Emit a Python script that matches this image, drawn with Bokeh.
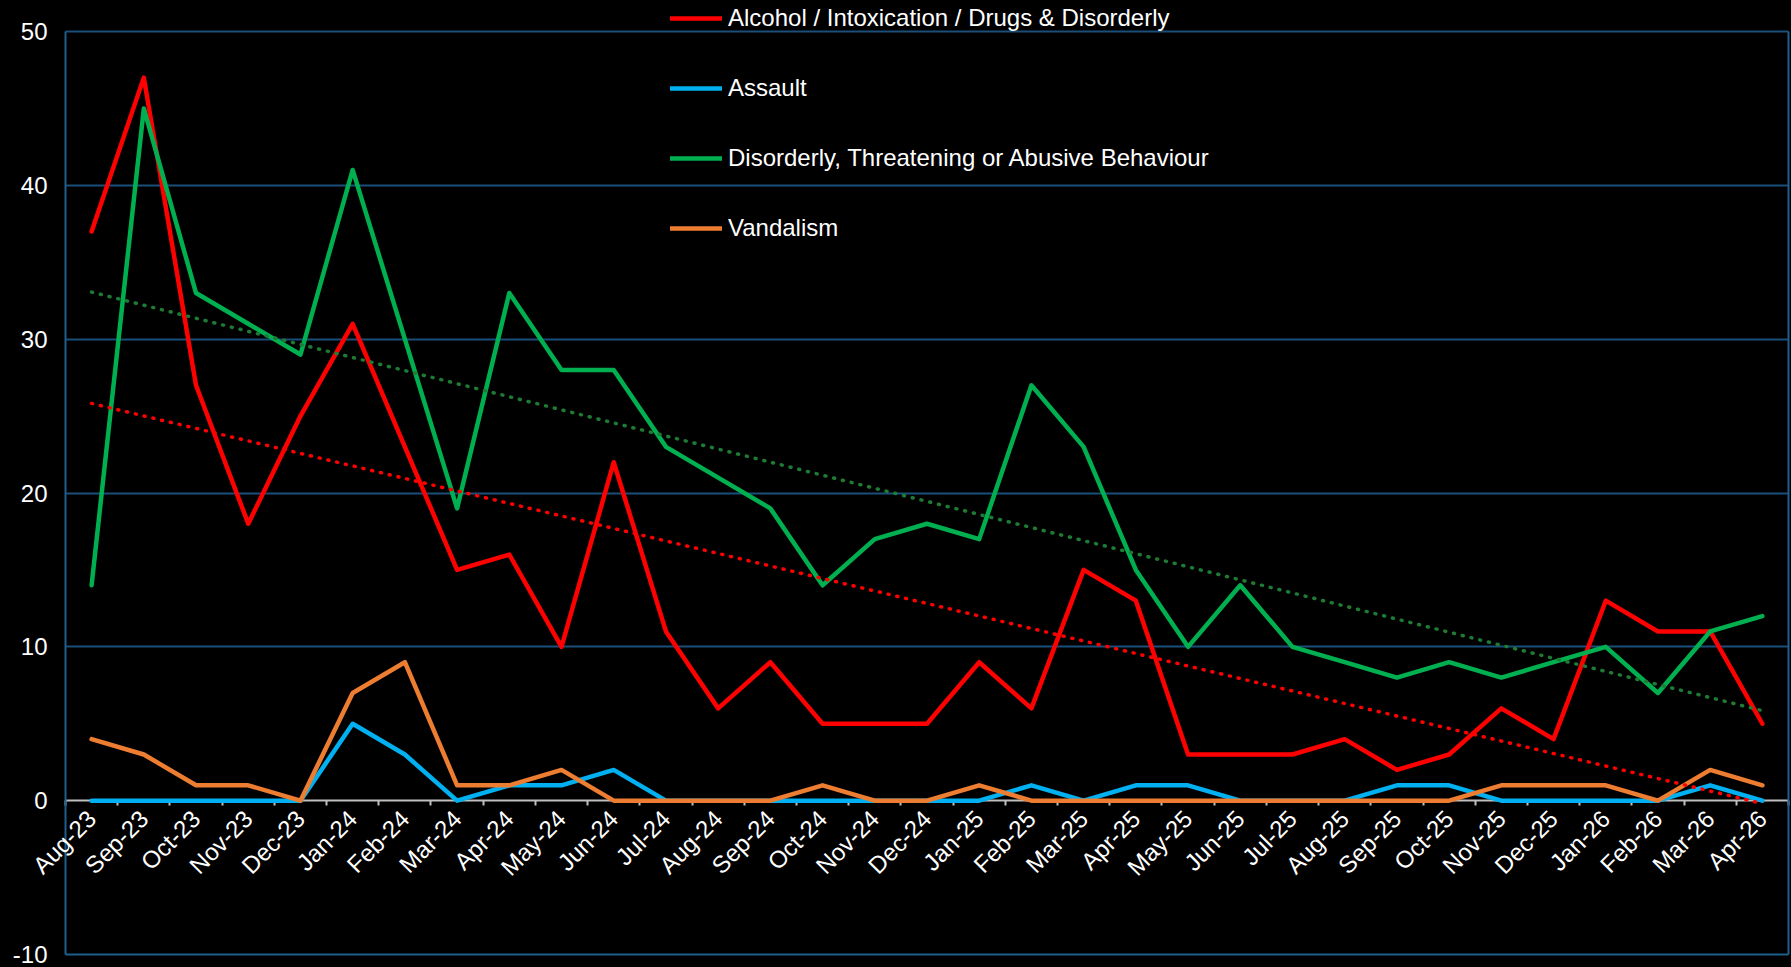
import numpy as np
from bokeh.plotting import figure
from bokeh.models import (Range1d, LinearAxis, FixedTicker, Legend, LegendItem)
from bokeh.embed import file_html
from bokeh.resources import INLINE

months = ["Aug-23", "Sep-23", "Oct-23", "Nov-23", "Dec-23",
          "Jan-24", "Feb-24", "Mar-24", "Apr-24", "May-24", "Jun-24",
          "Jul-24", "Aug-24", "Sep-24", "Oct-24", "Nov-24", "Dec-24",
          "Jan-25", "Feb-25", "Mar-25", "Apr-25", "May-25", "Jun-25",
          "Jul-25", "Aug-25", "Sep-25", "Oct-25", "Nov-25", "Dec-25",
          "Jan-26", "Feb-26", "Mar-26", "Apr-26"]

alcohol = [37, 47, 27, 18, 25, 31, 23, 15, 16, 10, 22, 11, 6, 9, 5, 5, 5,
           9, 6, 15, 13, 3, 3, 3, 4, 2, 3, 6, 4, 13, 11, 11, 5]
assault = [0, 0, 0, 0, 0, 5, 3, 0, 1, 1, 2, 0, 0, 0, 0, 0, 0,
           0, 1, 0, 1, 1, 0, 0, 0, 1, 1, 0, 0, 0, 0, 1, 0]
disorderly = [14, 45, 33, 31, 29, 41, 30, 19, 33, 28, 28, 23, 21, 19, 14, 17, 18,
              17, 27, 23, 15, 10, 14, 10, 9, 8, 9, 8, 9, 10, 7, 11, 12]
vandalism = [4, 3, 1, 1, 0, 7, 9, 1, 1, 2, 0, 0, 0, 0, 1, 0, 0,
             1, 0, 0, 0, 0, 0, 0, 0, 0, 0, 1, 1, 1, 0, 2, 1]

series_names = ["Alcohol / Intoxication / Drugs & Disorderly", "Assault",
                "Disorderly, Threatening or Abusive Behaviour", "Vandalism"]
y_ticks = [-10, 0, 10, 20, 30, 40, 50]

FONT = "Liberation Sans"
GRID = "#1B4F7A"
BORDER = "#1F5F8C"
n = len(months)
xpos = list(range(n))          # category index positions
x_lo, x_hi = -0.5, n - 0.5     # plot-area edges (category boundaries)
y_lo, y_hi = y_ticks[0], y_ticks[-1]

W, H = 1791, 967
left_px, right_px, top_px, bot_px = 65, 3, 31, 13
px_x = (W - left_px - right_px) / (x_hi - x_lo)
px_y = (H - top_px - bot_px) / (y_hi - y_lo)

p = figure(width=W, height=H,
           x_range=Range1d(x_lo - left_px / px_x, x_hi + right_px / px_x),
           y_range=Range1d(y_lo - bot_px / px_y, y_hi + top_px / px_y),
           output_backend="svg", toolbar_location=None,
           background_fill_color="black", border_fill_color="black",
           x_axis_location=None, y_axis_location=None,
           min_border_left=0, min_border_right=0,
           min_border_top=0, min_border_bottom=0)
p.outline_line_color = None
p.center = []  # no default grids

no_ticks = dict(major_tick_line_color=None, minor_tick_line_color=None)

# horizontal gridlines, limited to the plot area
for v in [t for t in y_ticks if t > 0]:
    g = LinearAxis(fixed_location=v, bounds=(x_lo, x_hi), ticker=FixedTicker(ticks=[]),
                   axis_line_color=GRID, axis_line_width=2, major_label_text_color=None,
                   level="underlay", **no_ticks)
    p.add_layout(g, "below")

# plot-area border: bottom, left (with labels), right
bottom = LinearAxis(fixed_location=y_lo, bounds=(x_lo, x_hi), ticker=FixedTicker(ticks=[]),
                    axis_line_color=BORDER, axis_line_width=2, major_label_text_color=None,
                    level="underlay", **no_ticks)
p.add_layout(bottom, "below")

yaxis = LinearAxis(fixed_location=x_lo, bounds=(y_lo, y_hi),
                   ticker=FixedTicker(ticks=y_ticks),
                   major_label_overrides={t: str(t) for t in y_ticks},
                   axis_line_color=BORDER, axis_line_width=2,
                   major_label_text_color="white", major_label_text_font=FONT,
                   major_label_text_font_size="24px", major_label_standoff=12,
                   level="underlay", **no_ticks)
p.add_layout(yaxis, "left")

right = LinearAxis(fixed_location=x_hi, bounds=(y_lo, y_hi), ticker=FixedTicker(ticks=[]),
                   axis_line_color=BORDER, axis_line_width=2, major_label_text_color=None,
                   level="underlay", **no_ticks)
p.add_layout(right, "right")

# x axis line at y = 0 with tick marks at category boundaries (beneath the series)
line_axis = LinearAxis(fixed_location=0, bounds=(x_lo, x_hi),
                       ticker=FixedTicker(ticks=[i - 0.5 for i in range(n + 1)]),
                       axis_line_color="#BFBFBF", axis_line_width=2,
                       major_tick_line_color="#BFBFBF", major_tick_line_width=2,
                       major_tick_in=0, major_tick_out=5,
                       minor_tick_line_color=None, major_label_text_color=None,
                       level="underlay")
p.add_layout(line_axis, "below")

# month labels at category centres
label_axis = LinearAxis(fixed_location=0, ticker=FixedTicker(ticks=xpos),
                        major_label_overrides={i: m for i, m in enumerate(months)},
                        axis_line_color=None,
                        major_label_orientation=np.pi / 4,
                        major_label_text_color="white", major_label_text_font=FONT,
                        major_label_text_font_size="24px", major_label_standoff=8,
                        **no_ticks)
p.add_layout(label_axis, "below")

colors = ["#FF0000", "#00B0F0", "#00B050", "#ED7D31"]
data = [alcohol, assault, disorderly, vandalism]
renderers = []
for vals, col in zip(data, colors):
    r = p.line(x=xpos, y=vals, line_color=col, line_width=4.5,
               line_join="round", line_cap="round")
    renderers.append(r)

# linear trendlines
idx = np.arange(n)
for vals, col in [(alcohol, "#FF0000"), (disorderly, "#1E7B34")]:
    coef = np.polyfit(idx, vals, 1)
    trend = np.polyval(coef, idx)
    p.line(x=xpos, y=list(trend), line_color=col, line_width=3.5,
           line_dash="1 8", line_cap="round")

legend = Legend(items=[LegendItem(label=s, renderers=[r]) for s, r in zip(series_names, renderers)],
                location=(670, 725), orientation="vertical",
                background_fill_alpha=0, border_line_color=None,
                label_text_color="white", label_text_font=FONT,
                label_text_font_size="24px", glyph_width=52, glyph_height=24,
                label_height=24, label_standoff=6, spacing=42, padding=0, margin=0)
p.add_layout(legend)

html = file_html(p, INLINE)
html = html.replace("</head>", "<style>html,body{background:#000000;}</style></head>", 1)
open("out.html", "w").write(html)
